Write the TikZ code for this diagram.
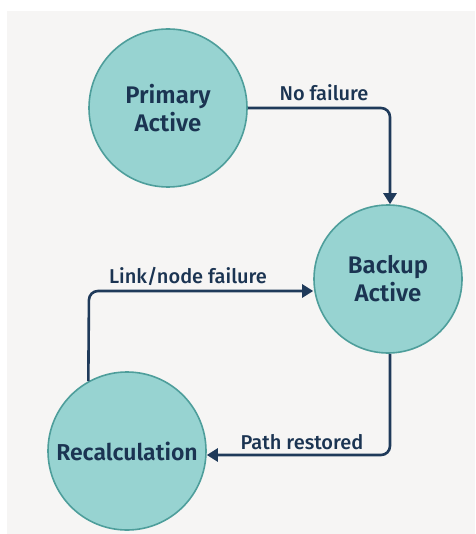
\documentclass[tikz,border=0pt]{standalone}
\usepackage{fontspec}
\setmainfont{Fira Sans}[BoldFont={Fira Sans SemiBold}]
\newfontfamily\lblfont{Fira Sans Medium}
\usetikzlibrary{arrows.meta}
\definecolor{bgpanel}{HTML}{F6F5F4}
\definecolor{nodefill}{HTML}{97D3D1}
\definecolor{nodeedge}{HTML}{4E9E9B}
\definecolor{ink}{HTML}{1B3452}
\definecolor{wire}{HTML}{1F3A5A}
\tikzset{
  state/.style={circle, draw=nodeedge, line width=1.6pt, fill=nodefill, text=ink,
    font=\fontsize{24}{28}\selectfont\bfseries, align=center, inner sep=0pt},
  link/.style={draw=wire, line width=2.6pt, rounded corners=9pt,
    -{Triangle[length=11pt,width=13pt]}},
  lbl/.style={text=ink, font=\lblfont\fontsize{20}{22}\selectfont, inner sep=0pt}
}
\begin{document}
\begin{tikzpicture}[x=1pt,y=-1pt]
\useasboundingbox (0,0) rectangle (475,534);
\fill[white] (0,0) rectangle (475,534);
\fill[bgpanel] (7,11) rectangle (475,534);
\begin{scope}
\clip (7,11) rectangle (475,534);
\node[state, minimum size=158pt] (prim) at (168,108) {Primary\\Active};
\node[state, minimum size=148pt] (back) at (388,279) {Backup\\Active};
\node[state, minimum size=158pt, font=\fontsize{23}{28}\selectfont\bfseries] (recalc) at (127,451) {Recalculation};
\coordinate (c1) at (390,108);
\coordinate (c2) at (89,291);
\coordinate (c3) at (390,455);
\draw[link] (prim.east) -- (c1) -- (back.north -| c1);
\draw[link] (recalc.119) -- (c2) -- (back.west |- c2);
\draw[link] (back.south -| c3) -- (c3) -- (recalc.east |- c3);
\node[lbl] (l1) at (324,93) {No failure};
\node[lbl] (l2) at (188,276) {Link/node failure};
\node[lbl] (l3) at (302,442) {Path restored};
\end{scope}
\end{tikzpicture}
\end{document}
